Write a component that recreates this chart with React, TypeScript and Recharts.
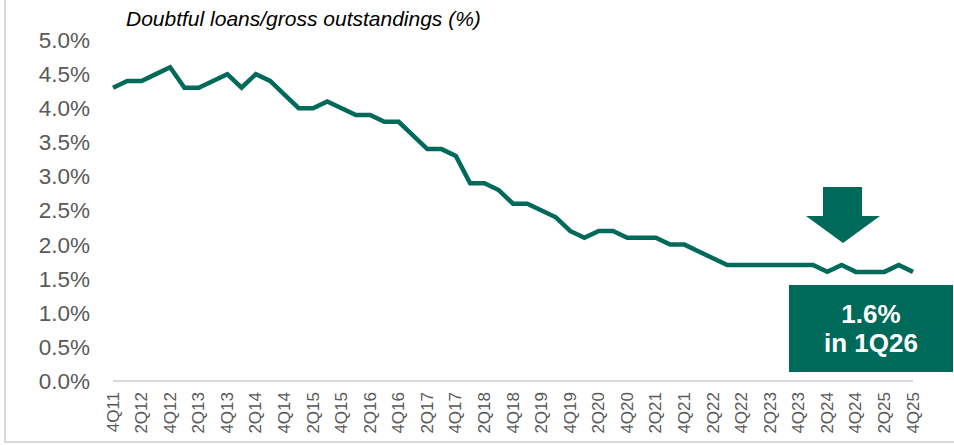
import { LineChart, Line, XAxis, YAxis } from 'recharts';

const quarters = [
  '4Q11', '1Q12', '2Q12', '3Q12', '4Q12', '1Q13', '2Q13', '3Q13', '4Q13',
  '1Q14', '2Q14', '3Q14', '4Q14', '1Q15', '2Q15', '3Q15', '4Q15',
  '1Q16', '2Q16', '3Q16', '4Q16', '1Q17', '2Q17', '3Q17', '4Q17',
  '1Q18', '2Q18', '3Q18', '4Q18', '1Q19', '2Q19', '3Q19', '4Q19',
  '1Q20', '2Q20', '3Q20', '4Q20', '1Q21', '2Q21', '3Q21', '4Q21',
  '1Q22', '2Q22', '3Q22', '4Q22', '1Q23', '2Q23', '3Q23', '4Q23',
  '1Q24', '2Q24', '3Q24', '4Q24', '1Q25', '2Q25', '3Q25', '4Q25',
];

// doubtful loans / gross outstandings, %
const doubtful = [
  4.3, 4.4, 4.4, 4.5, 4.6, 4.3, 4.3, 4.4, 4.5,
  4.3, 4.5, 4.4, 4.2, 4.0, 4.0, 4.1, 4.0,
  3.9, 3.9, 3.8, 3.8, 3.6, 3.4, 3.4, 3.3,
  2.9, 2.9, 2.8, 2.6, 2.6, 2.5, 2.4, 2.2,
  2.1, 2.2, 2.2, 2.1, 2.1, 2.1, 2.0, 2.0,
  1.9, 1.8, 1.7, 1.7, 1.7, 1.7, 1.7, 1.7,
  1.7, 1.6, 1.7, 1.6, 1.6, 1.6, 1.7, 1.6,
];

const yTicks = [0, 0.5, 1, 1.5, 2, 2.5, 3, 3.5, 4, 4.5, 5];

const GREEN = '#006a5a';
const FONT = '"Liberation Sans", Arial, sans-serif';

const rows = quarters.map((q, i) => ({ q, v: doubtful[i] }));

function XTick({ x, y, payload }: any) {
  return (
    <text
      x={x}
      y={y}
      transform={`rotate(-90, ${x}, ${y})`}
      textAnchor="end"
      dominantBaseline="central"
      fontSize={17}
      fontFamily={FONT}
      fill="#595959"
    >
      {payload.value}
    </text>
  );
}

export default function App() {
  return (
    <div style={{ position: 'absolute', left: 0, top: 0, width: 954, height: 445, background: '#fff', fontFamily: FONT }}>
      <div style={{ position: 'absolute', left: 4, top: 0, width: 948, height: 441, borderLeft: '2px solid #d9d9d9', borderBottom: '2px solid #d9d9d9' }} />
      <div style={{ position: 'absolute', left: 126, top: 7, fontSize: 21, fontStyle: 'italic', color: '#000', whiteSpace: 'nowrap' }}>
        Doubtful loans/gross outstandings (%)
      </div>
      <LineChart width={954} height={445} data={rows} margin={{ top: 40, right: 41, bottom: 0, left: 0 }} style={{ position: 'absolute', left: 0, top: 0 }}>
        <XAxis
          dataKey="q"
          interval={1}
          tickLine={false}
          tickMargin={5}
          height={64}
          axisLine={{ stroke: '#d9d9d9', strokeWidth: 2 }}
          tick={<XTick />}
        />
        <YAxis
          domain={[0, 5]}
          ticks={yTicks}
          width={113}
          axisLine={false}
          tickLine={false}
          tickMargin={17}
          tickFormatter={(v: number) => `${v.toFixed(1)}%`}
          tick={{ fontSize: 22.5, fill: '#595959', fontFamily: FONT }}
        />
        <Line type="linear" dataKey="v" stroke={GREEN} strokeWidth={4.5} dot={false} isAnimationActive={false} />
      </LineChart>
      <svg width={954} height={445} style={{ position: 'absolute', left: 0, top: 0, pointerEvents: 'none' }}>
        <polygon points="823,187 862,187 862,216 880,216 843,243 806,216 823,216" fill={GREEN} />
      </svg>
      <div style={{ position: 'absolute', left: 789, top: 285, width: 164, height: 87, background: GREEN, color: '#fff', fontWeight: 'bold', fontSize: 26, lineHeight: '29px', textAlign: 'center', display: 'flex', flexDirection: 'column', justifyContent: 'center' }}>
        <div>1.6%</div>
        <div>in 1Q26</div>
      </div>
    </div>
  );
}
